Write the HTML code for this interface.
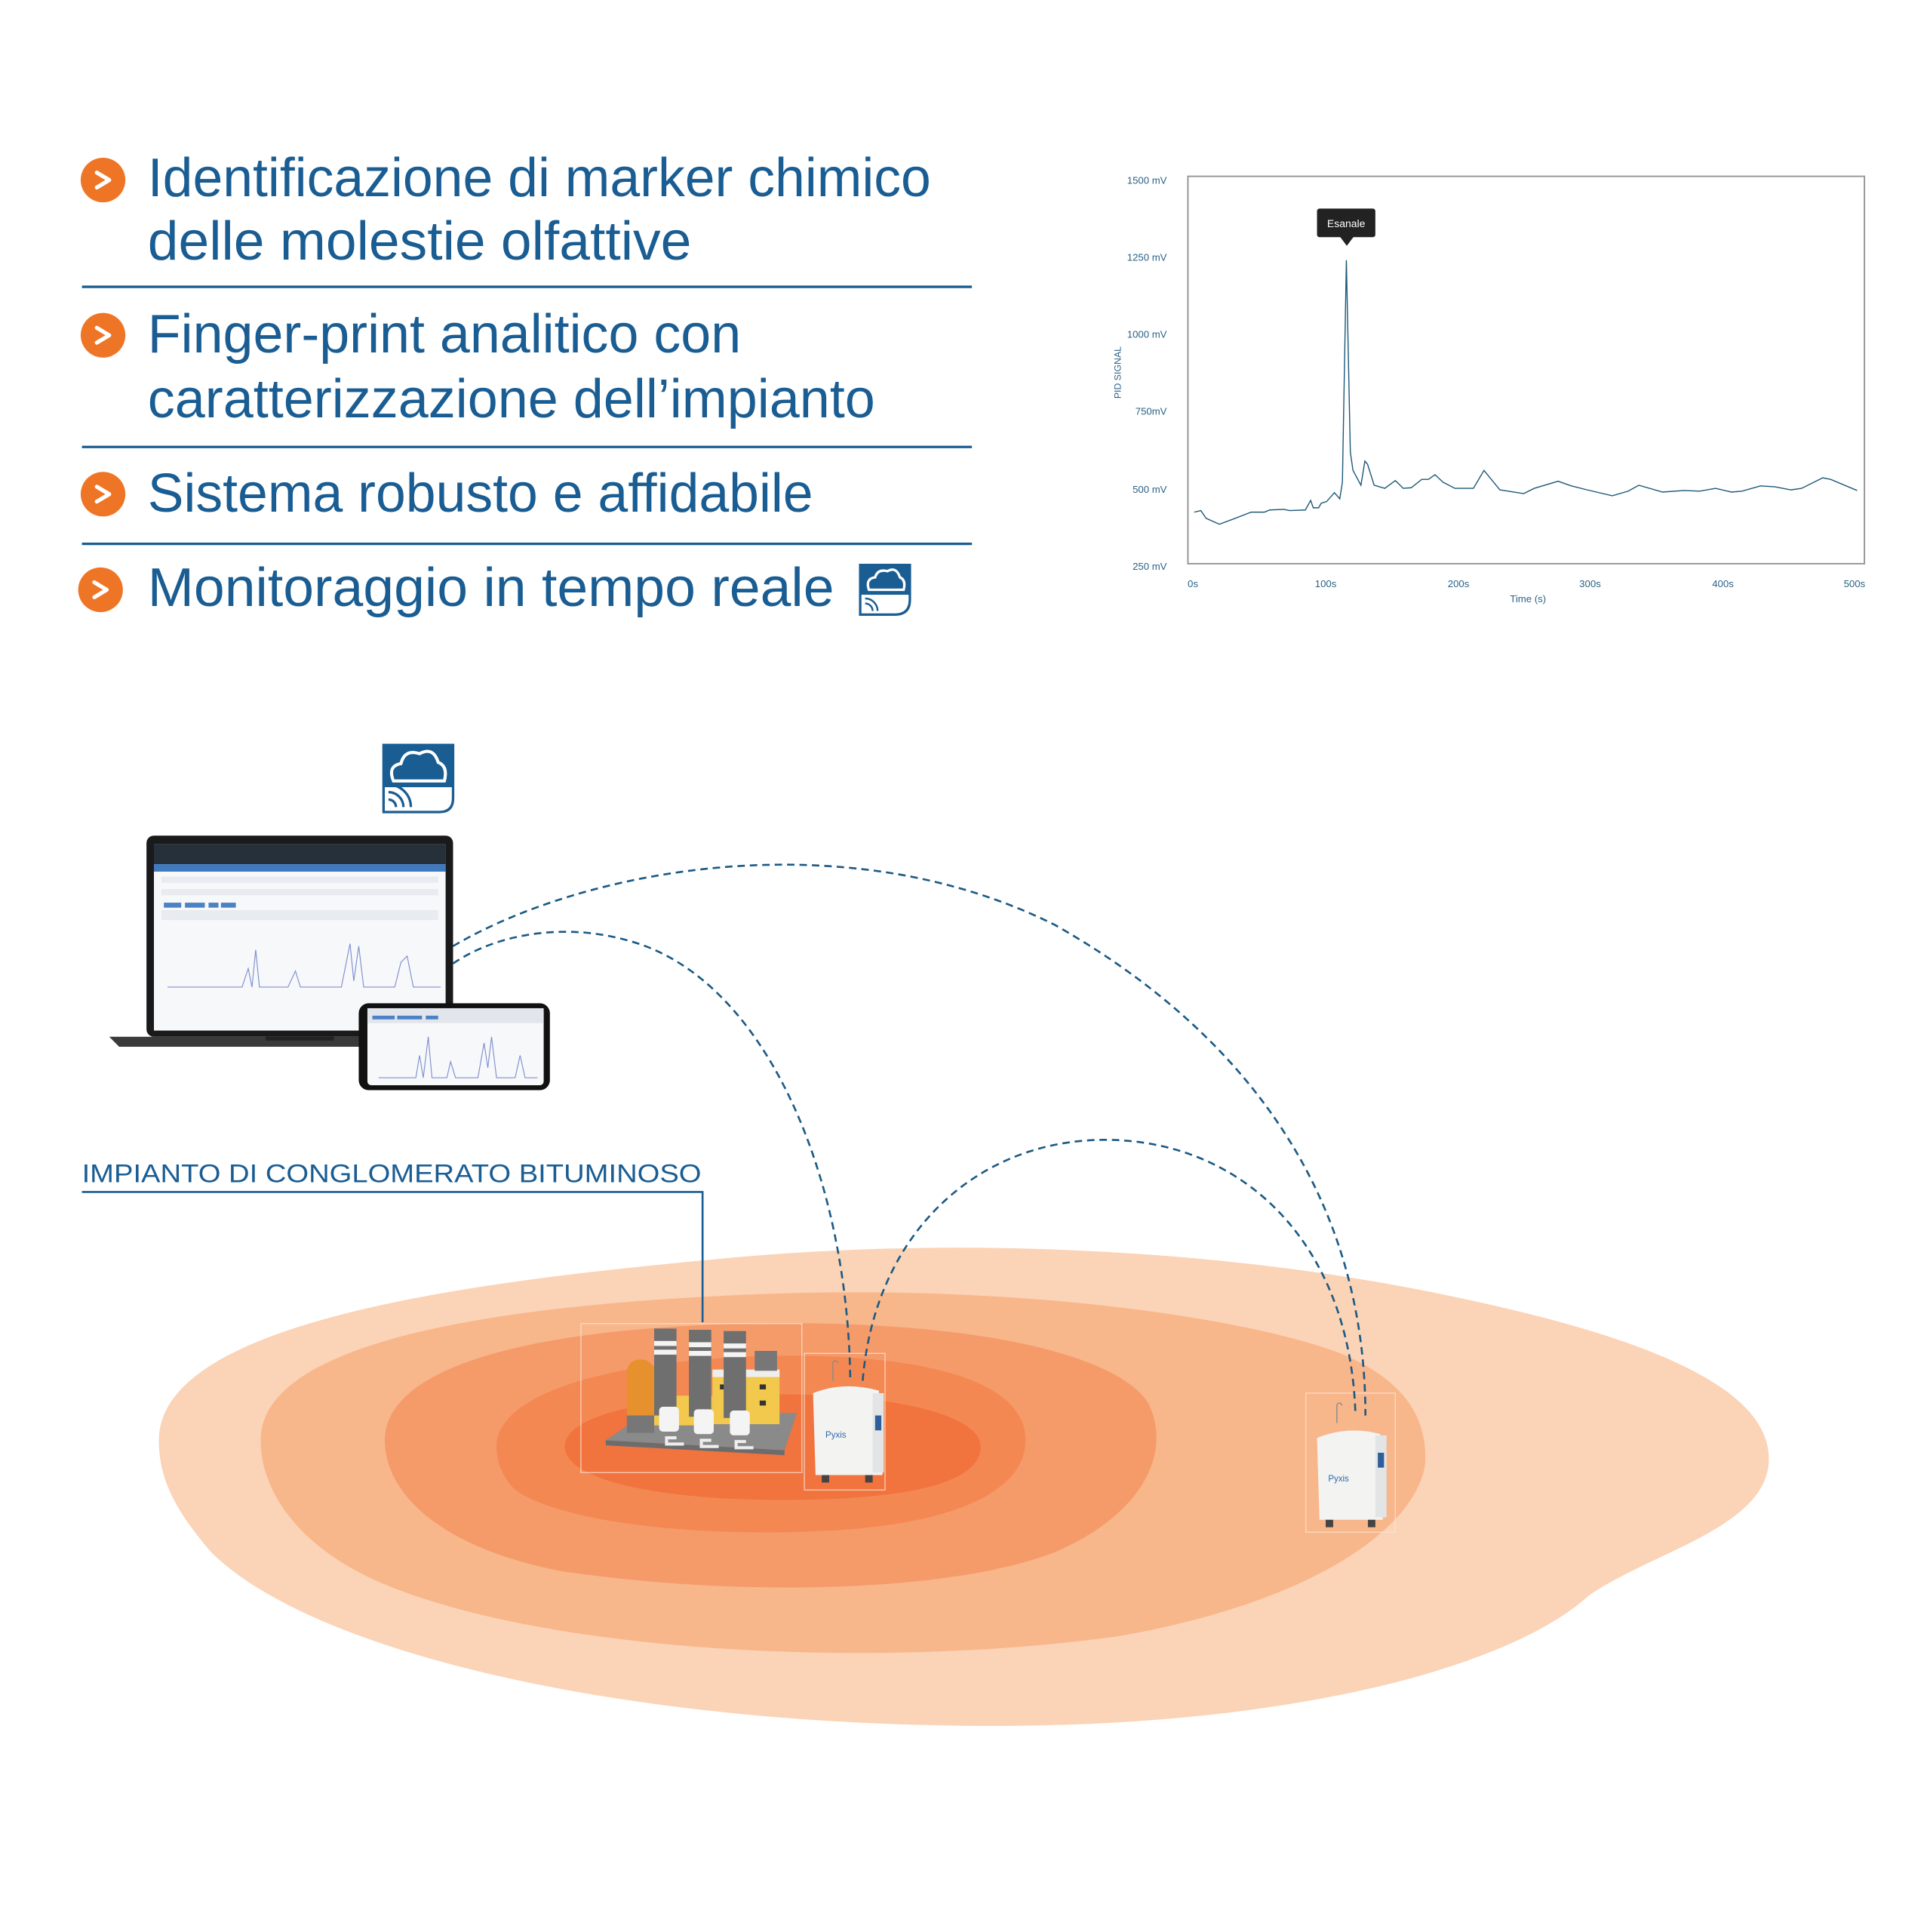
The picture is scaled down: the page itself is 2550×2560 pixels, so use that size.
<!DOCTYPE html>
<html><head><meta charset="utf-8"><style>
html,body{margin:0;padding:0;background:#fff}
svg{display:block}
</style></head><body>
<svg width="2550" height="2560" viewBox="0 0 1550 1556" preserveAspectRatio="none" xmlns="http://www.w3.org/2000/svg" font-family="Liberation Sans, sans-serif">
<rect width="1550" height="1556" fill="#fff"/>
<!-- Bullets -->
<g fill="#ef7526">
<circle cx="83" cy="145" r="18"/><circle cx="83" cy="270" r="18"/><circle cx="83" cy="398" r="18"/><circle cx="81" cy="475" r="18"/>
</g>
<g fill="none" stroke="#fff" stroke-width="3.2" stroke-linecap="round" stroke-linejoin="round">
<path d="M78,139 L88,145 L78,151"/><path d="M78,264 L88,270 L78,276"/><path d="M78,392 L88,398 L78,404"/><path d="M76,469 L86,475 L76,481"/>
</g>
<g fill="#1a5d93" font-size="44">
<text x="119" y="158" textLength="631" lengthAdjust="spacingAndGlyphs">Identificazione di marker chimico</text>
<text x="119" y="209" textLength="438" lengthAdjust="spacingAndGlyphs">delle molestie olfattive</text>
<text x="119" y="284" textLength="478" lengthAdjust="spacingAndGlyphs">Finger-print analitico con</text>
<text x="119" y="336" textLength="586" lengthAdjust="spacingAndGlyphs">caratterizzazione dell’impianto</text>
<text x="119" y="412" textLength="536" lengthAdjust="spacingAndGlyphs">Sistema robusto e affidabile</text>
<text x="119" y="488" textLength="553" lengthAdjust="spacingAndGlyphs">Monitoraggio in tempo reale</text>
</g>
<g stroke="#1a5d93" stroke-width="2">
<line x1="66" y1="231" x2="783" y2="231"/><line x1="66" y1="360" x2="783" y2="360"/><line x1="66" y1="438" x2="783" y2="438"/>
</g>
<!-- small cloud icon -->
<g>
<path d="M693,455 H733 V483 Q733,495 721,495 H693 Z" fill="#fff" stroke="#1a5d93" stroke-width="2"/>
<rect x="693" y="455" width="40" height="24" fill="#1a5d93"/>
<path d="M700,475 Q697,466 705,465 Q707,458 715,460 Q722,456 725,465 Q730,467 728,475 Z" fill="none" stroke="#fff" stroke-width="2"/>
<path d="M697,486 a6,6 0 0 1 6,6 M697,482 a10,10 0 0 1 10,10" fill="none" stroke="#1a5d93" stroke-width="1.5"/>
</g>
<!-- Chart -->
<rect x="957" y="142" width="545" height="312" fill="none" stroke="#999" stroke-width="1.2"/>
<g fill="#2a6285" font-size="8" text-anchor="end">
<text x="940" y="148">1500 mV</text><text x="940" y="210">1250 mV</text><text x="940" y="272">1000 mV</text><text x="940" y="334">750mV</text><text x="940" y="397">500 mV</text><text x="940" y="459">250 mV</text>
</g>
<g fill="#2a6285" font-size="8" text-anchor="middle">
<text x="961" y="473">0s</text><text x="1068" y="473">100s</text><text x="1175" y="473">200s</text><text x="1281" y="473">300s</text><text x="1388" y="473">400s</text><text x="1494" y="473">500s</text>
<text x="1231" y="485">Time (s)</text>
<text transform="translate(903,300) rotate(-90)" font-size="7.5">PID SIGNAL</text>
</g>
<g transform="matrix(1.066 0 0 -0.249 961 518.3)">
<polyline fill="none" stroke="#1c5878" stroke-width="1.4" vector-effect="non-scaling-stroke" points="1,425 6,430 10,405 20,386 32,405 44,425 54,425 58,432 69,434 73,430 85,432 89,463 91,439 95,439 97,454 101,459 107,488 111,468 113,522 116,1240 119,619 121,560 127,512 130,590 132,580 137,512 145,502 153,527 159,502 165,504 173,531 178,531 183,546 189,522 198,502 212,502 220,560 232,497 250,485 258,502 276,525 286,510 298,497 317,478 329,493 337,512 355,490 371,495 383,493 395,502 407,490 415,493 429,510 440,507 452,497 460,502 476,536 482,531 502,495"/>
</g>
<rect x="1061" y="168" width="47" height="23" rx="2" fill="#222"/>
<path d="M1079,190 L1085,198 L1091,190 Z" fill="#222"/>
<text x="1084.5" y="183" font-size="8.5" fill="#fff" text-anchor="middle">Esanale</text>
<!-- Plumes -->
<path d="M128,1160 C128,1060 400,1030 600,1012 C800,995 1000,1010 1150,1040 C1300,1070 1425,1110 1425,1175 C1425,1230 1330,1250 1280,1285 C1220,1340 1050,1390 800,1390 C500,1390 250,1330 170,1250 C140,1215 128,1190 128,1160 Z" fill="#fbd3b6"/>
<path d="M210,1160 C210,1080 400,1050 620,1042 C820,1035 1000,1060 1080,1090 C1140,1115 1150,1150 1148,1180 C1140,1230 1060,1290 900,1318 C700,1345 450,1330 320,1280 C240,1250 210,1200 210,1160 Z" fill="#f8b68b"/>
<path d="M310,1160 C310,1100 430,1070 600,1066 C780,1062 900,1090 925,1130 C945,1170 920,1220 850,1250 C760,1285 580,1285 450,1265 C350,1245 310,1200 310,1160 Z" fill="#f59b6a"/>
<path d="M400,1165 C400,1120 500,1095 620,1092 C740,1090 815,1110 825,1150 C835,1195 780,1225 680,1232 C560,1240 450,1225 415,1200 C405,1190 400,1178 400,1165 Z" fill="#f48853"/>
<path d="M455,1165 C455,1140 520,1125 620,1123 C720,1122 790,1140 790,1165 C790,1195 730,1208 630,1208 C530,1208 455,1192 455,1165 Z" fill="#f1733e"/>
<!-- faint frames -->
<g fill="none" stroke="#fbe3d3" stroke-width="0.8" opacity="0.8">
<rect x="468" y="1066" width="178" height="120"/><rect x="648" y="1090" width="65" height="110"/><rect x="1052" y="1122" width="72" height="112"/>
</g>
<!-- Factory -->
<g>
<path d="M488,1160 L520,1138 L642,1138 L632,1168 Z" fill="#8a8a8a"/>
<path d="M488,1160 L632,1168 L632,1172 L488,1164 Z" fill="#6c6c6c"/>
<rect x="574" y="1105" width="54" height="42" fill="#f2c94c"/>
<rect x="574" y="1103" width="54" height="6" fill="#eee"/>
<rect x="608" y="1088" width="18" height="16" fill="#777"/>
<g fill="#333"><rect x="580" y="1115" width="5" height="4"/><rect x="590" y="1115" width="5" height="4"/><rect x="612" y="1115" width="5" height="4"/><rect x="612" y="1128" width="5" height="4"/><rect x="540" y="1130" width="5" height="4"/><rect x="520" y="1130" width="5" height="4"/></g>
<rect x="514" y="1124" width="60" height="24" fill="#f2c94c"/>
<rect x="505" y="1095" width="22" height="58" rx="10" fill="#e7902e"/>
<rect x="505" y="1140" width="22" height="14" fill="#777"/>
<rect x="527" y="1070" width="18" height="70" fill="#6f6f70"/>
<rect x="555" y="1071" width="18" height="70" fill="#6f6f70"/>
<rect x="583" y="1072" width="18" height="70" fill="#6f6f70"/>
<g fill="#f4f4f4"><rect x="527" y="1080" width="18" height="4"/><rect x="527" y="1087" width="18" height="4"/><rect x="555" y="1081" width="18" height="4"/><rect x="555" y="1088" width="18" height="4"/><rect x="583" y="1082" width="18" height="4"/><rect x="583" y="1089" width="18" height="4"/></g>
<g fill="#f4f4f4"><rect x="531" y="1133" width="16" height="20" rx="3"/><rect x="559" y="1135" width="16" height="20" rx="3"/><rect x="588" y="1136" width="16" height="20" rx="3"/></g>
<g stroke="#eee" stroke-width="2.5" fill="none"><path d="M545,1158 h-8 v5 h14"/><path d="M573,1160 h-8 v5 h14"/><path d="M601,1161 h-8 v5 h14"/></g>
</g>
<!-- Device 1 -->
<g>
<path d="M655,1122 Q680,1112 708,1120 L711,1188 L657,1188 Z" fill="#f3f3f1"/>
<rect x="703" y="1122" width="9" height="64" fill="#e2e4e6"/>
<rect x="705" y="1140" width="5" height="12" fill="#2d5f9a"/>
<rect x="662" y="1188" width="6" height="6" fill="#444"/><rect x="697" y="1188" width="6" height="6" fill="#444"/>
<text x="665" y="1158" font-size="7" fill="#2d6aa8">Pyxis</text>
<path d="M671,1112 v-14 a2,2 0 0 1 4,0" fill="none" stroke="#888" stroke-width="0.8"/>
</g>
<!-- Device 2 -->
<g>
<path d="M1061,1158 Q1086,1148 1112,1155 L1114,1224 L1063,1224 Z" fill="#f3f3f1"/>
<rect x="1108" y="1156" width="9" height="66" fill="#e2e4e6"/>
<rect x="1110" y="1170" width="5" height="12" fill="#2d5f9a"/>
<rect x="1068" y="1224" width="6" height="6" fill="#444"/><rect x="1102" y="1224" width="6" height="6" fill="#444"/>
<text x="1070" y="1193" font-size="7" fill="#2d6aa8">Pyxis</text>
<path d="M1077,1146 v-14 a2,2 0 0 1 4,0" fill="none" stroke="#888" stroke-width="0.8"/>
</g>
<!-- Dashed links -->
<g fill="none" stroke="#1b5a84" stroke-width="1.6" stroke-dasharray="6,4">
<path d="M365,762 C470,700 680,660 850,745 C1000,830 1100,960 1100,1140"/>
<path d="M365,776 C400,752 460,740 520,762 C620,800 683,950 685,1112"/>
<path d="M695,1112 C705,990 790,918 890,918 C1000,918 1088,1000 1092,1140"/>
</g>
<!-- Label & leader -->
<text x="66" y="952" font-size="21" fill="#1a5d93" textLength="499" lengthAdjust="spacingAndGlyphs">IMPIANTO DI CONGLOMERATO BITUMINOSO</text>
<polyline points="66,960 566,960 566,1065" fill="none" stroke="#1a5d93" stroke-width="1.6"/>
<!-- Cloud icon large -->
<g>
<path d="M309,600 H365 V643 Q365,654 354,654 H309 Z" fill="#fff" stroke="#1a5d93" stroke-width="2"/>
<rect x="309" y="600" width="56" height="34" fill="#1a5d93"/>
<path d="M317,629 Q312,617 323,615 Q326,603 338,607 Q349,601 353,614 Q361,617 358,629 Z" fill="none" stroke="#fff" stroke-width="2.5"/>
<path d="M313,644 a6,6 0 0 1 6,6 M313,638 a12,12 0 0 1 12,12 M313,632 a18,18 0 0 1 18,18" fill="none" stroke="#1a5d93" stroke-width="2"/>
</g>
<!-- Laptop -->
<g>
<rect x="118" y="673" width="247" height="162" rx="6" fill="#1a1a1a"/>
<rect x="124" y="680" width="235" height="150" fill="#f7f8fa"/>
<rect x="124" y="680" width="235" height="16" fill="#26303b"/>
<rect x="124" y="696" width="235" height="6" fill="#3f7ac0"/>
<g fill="#e8ebef"><rect x="130" y="706" width="223" height="5"/><rect x="130" y="716" width="223" height="5"/><rect x="130" y="733" width="223" height="8"/></g>
<g fill="#4b82c6"><rect x="132" y="727" width="14" height="4"/><rect x="149" y="727" width="16" height="4"/><rect x="168" y="727" width="8" height="4"/><rect x="178" y="727" width="12" height="4"/></g>
<polyline fill="none" stroke="#7f8fd0" stroke-width="0.7" points="135,795 195,795 200,780 203,795 206,765 209,795 232,795 238,782 242,795 275,795 282,760 285,790 289,762 293,795 318,795 323,775 328,770 333,795 355,795"/>
<path d="M88,835 H440 L436,843 H96 Z" fill="#3a3a3a"/>
<rect x="214" y="835" width="55" height="3" fill="#222"/>
</g>
<!-- Phone -->
<g>
<rect x="289" y="808" width="154" height="70" rx="8" fill="#111"/>
<rect x="296" y="812" width="142" height="62" rx="3" fill="#f7f8fa"/>
<rect x="296" y="812" width="142" height="12" fill="#e2e6ec"/>
<g fill="#4b82c6"><rect x="300" y="818" width="18" height="3"/><rect x="320" y="818" width="20" height="3"/><rect x="343" y="818" width="10" height="3"/></g>
<polyline fill="none" stroke="#7f8fd0" stroke-width="0.7" points="305,868 335,868 338,850 341,868 345,835 348,868 360,868 363,855 367,868 385,868 390,840 393,860 396,835 400,868 415,868 419,850 423,868 433,868"/>
</g>
</svg>
</body></html>
